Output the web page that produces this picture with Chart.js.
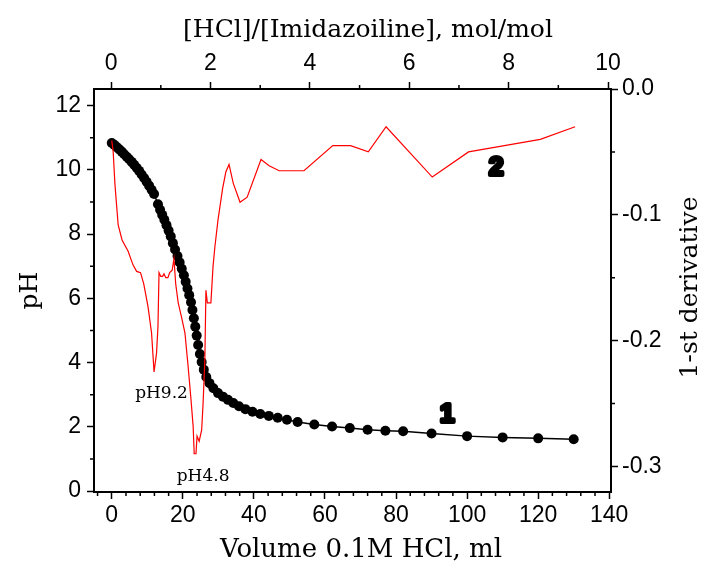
<!DOCTYPE html>
<html>
<head>
<meta charset="utf-8">
<script src="https://cdn.jsdelivr.net/npm/chart.js@4.4.0/dist/chart.umd.min.js"></script>
<style>
  html, body { margin: 0; padding: 0; background: #fff; }
</style>
</head>
<body>
<canvas id="chart" width="705" height="567"></canvas>
<script>
// titration curve: volume of 0.1M HCl (ml) vs pH
const volume = [0, 0.7, 1.4, 2.1, 2.8, 3.5, 4.2, 4.9, 5.6, 6.3,
    7.0, 7.7, 8.4, 9.1, 9.8, 10.5, 11.2, 11.9, 13.0, 13.6,
    14.2, 14.8, 15.4, 16.0, 16.6, 17.2, 17.8, 18.5, 19.1, 19.7,
    20.3, 20.8, 21.3, 21.8, 22.3, 22.7, 23.1, 23.5, 23.9, 24.3,
    24.8, 25.3, 25.9, 26.6, 27.5, 28.6, 29.9, 31.3, 32.7, 34.2,
    35.8, 37.6, 39.6, 41.8, 44.2, 46.7, 49.3, 52.3, 57.0, 62.0,
    67.0, 72.0, 77.0, 82.0, 90.0, 100.0, 110.0, 120.0, 130.0];
const pH = [10.84, 10.78, 10.71, 10.64, 10.57, 10.49, 10.41, 10.33, 10.25, 10.16,
    10.07, 9.97, 9.86, 9.75, 9.63, 9.51, 9.38, 9.25, 8.93, 8.76,
    8.60, 8.45, 8.28, 8.11, 7.93, 7.72, 7.52, 7.32, 7.12, 6.92,
    6.72, 6.52, 6.31, 6.10, 5.88, 5.64, 5.38, 5.12, 4.84, 4.55,
    4.27, 4.02, 3.78, 3.55, 3.36, 3.20, 3.05, 2.94, 2.84, 2.74,
    2.64, 2.55, 2.47, 2.40, 2.34, 2.28, 2.22, 2.15, 2.07, 2.01,
    1.96, 1.91, 1.88, 1.86, 1.79, 1.71, 1.67, 1.64, 1.61];

// first derivative (right axis)
const derivVolume = [0, 0.4, 0.9, 1.8, 2.9, 4.6, 6.0, 7.0, 8.1, 9.0,
    10.2, 11.2, 11.9, 12.6, 13.0, 13.3, 13.8, 14.3, 14.7, 15.2,
    15.8, 16.3, 17.0, 17.5, 18.0, 18.7, 19.6, 20.6, 21.5, 22.3,
    22.9, 23.2, 23.7, 24.0, 24.6, 25.3, 25.7, 26.2, 26.5, 26.9,
    27.9, 28.5, 29.0, 29.9, 31.2, 32.1, 33.0, 34.2, 36.1, 38.1,
    42.0, 44.3, 47.1, 54.1, 62.2, 67.2, 72.2, 77.2, 90.2, 100.4,
    120.6, 130.4];
const derivValue = [-0.041, -0.050, -0.076, -0.108, -0.120, -0.129, -0.140, -0.145, -0.146, -0.155,
    -0.173, -0.194, -0.225, -0.210, -0.189, -0.146, -0.149, -0.149, -0.147, -0.150,
    -0.150, -0.146, -0.144, -0.135, -0.155, -0.170, -0.181, -0.194, -0.221, -0.247,
    -0.268, -0.290, -0.290, -0.276, -0.280, -0.271, -0.250, -0.215, -0.160, -0.170,
    -0.170, -0.141, -0.126, -0.104, -0.079, -0.066, -0.060, -0.075, -0.090, -0.086,
    -0.056, -0.061, -0.065, -0.065, -0.045, -0.045, -0.050, -0.030, -0.070, -0.050,
    -0.040, -0.030];

// tick labels
const volumeTicks = [0, 20, 40, 60, 80, 100, 120, 140];
const ratioTicks = [0, 2, 4, 6, 8, 10];
const pHTicks = [0, 2, 4, 6, 8, 10, 12];
const derivTicks = [0, -0.1, -0.2, -0.3];

const tickFont = { family: '"Liberation Sans Narrow", "Liberation Sans", sans-serif', size: 23 };
const titleFont = { family: '"DejaVu Serif", serif', size: 25 };

function fixedTicks(values) {
    return scale => { scale.ticks = values.map(v => ({ value: v })); };
}

function axis(extra) {
    return Object.assign({
        type: 'linear',
        border: { color: '#000', width: 2 },
        grid: { drawOnChartArea: false, tickLength: 7, tickWidth: 1.5, tickColor: '#000' },
    }, extra);
}

// minor ticks, axis titles and the text notes on the plot
const extras = {
    id: 'extras',
    afterDraw(chart) {
        const { ctx, chartArea: a } = chart;
        const { x, x2, y, y2 } = chart.scales;
        ctx.save();
        ctx.strokeStyle = '#000';
        ctx.lineWidth = 1.5;
        ctx.beginPath();
        for (let v = -4; v <= 140; v += 4) {
            if (v % 20 === 0) continue;
            const p = x.getPixelForValue(v);
            if (p < a.left || p > a.right) continue;
            ctx.moveTo(p, a.bottom); ctx.lineTo(p, a.bottom + 4);
        }
        for (let v = 1; v <= 9; v += 2) {
            const p = x2.getPixelForValue(v);
            ctx.moveTo(p, a.top); ctx.lineTo(p, a.top - 4);
        }
        for (let v = 1; v <= 11; v += 2) {
            const p = y.getPixelForValue(v);
            ctx.moveTo(a.left, p); ctx.lineTo(a.left - 4, p);
        }
        for (const v of [-0.05, -0.15, -0.25]) {
            const p = y2.getPixelForValue(v);
            ctx.moveTo(a.right, p); ctx.lineTo(a.right + 4, p);
        }
        ctx.stroke();

        ctx.fillStyle = '#000';
        ctx.textAlign = 'center';
        ctx.textBaseline = 'middle';

        ctx.font = `${titleFont.size}px ${titleFont.family}`;
        ctx.fillText('[HCl]/[Imidazoiline], mol/mol', 368, 30);
        ctx.font = `26px ${titleFont.family}`;
        ctx.fillText('Volume 0.1M HCl, ml', 361, 550);

        // right axis title reads bottom to top like the left one
        ctx.save();
        ctx.font = `${titleFont.size}px ${titleFont.family}`;
        ctx.translate(690, (a.top + a.bottom) / 2 - 3);
        ctx.rotate(-Math.PI / 2);
        ctx.fillText('1-st derivative', 0, 0);
        ctx.restore();

        ctx.font = '17px "DejaVu Serif", serif';
        ctx.fillText('pH9.2', x.getPixelForValue(14.0), y.getPixelForValue(3.04));
        ctx.fillText('pH4.8', x.getPixelForValue(25.7), y.getPixelForValue(0.45));

        ctx.font = 'bold 26px "Liberation Sans", sans-serif';
        ctx.lineWidth = 4;
        ctx.lineJoin = 'round';
        const blob = (t, vx, vy) => {
            const px = x.getPixelForValue(vx), py = y.getPixelForValue(vy);
            ctx.strokeText(t, px, py);
            ctx.fillText(t, px, py);
        };
        blob('1', 94.4, 2.37);
        blob('2', 108.2, 10.06);
        ctx.restore();
    }
};

new Chart(document.getElementById('chart'), {
    type: 'scatter',
    data: {
        datasets: [{
            label: '1-st derivative',
            data: derivVolume.map((v, i) => ({ x: v, y: derivValue[i] })),
            xAxisID: 'x',
            yAxisID: 'y2',
            showLine: true,
            borderColor: '#ff0000',
            borderWidth: 1.2,
            pointRadius: 0,
            tension: 0
        }, {
            label: 'pH',
            data: volume.map((v, i) => ({ x: v, y: pH[i] })),
            xAxisID: 'x',
            yAxisID: 'y',
            showLine: true,
            borderColor: '#000',
            borderWidth: 1.5,
            pointRadius: 5,
            pointBackgroundColor: '#000',
            pointBorderWidth: 0,
            tension: 0
        }]
    },
    options: {
        responsive: false,
        animation: false,
        layout: { padding: 0 },
        plugins: { legend: { display: false }, tooltip: { enabled: false } },
        scales: {
            x: axis({
                position: 'bottom', min: -5, max: 140.5,
                afterBuildTicks: fixedTicks(volumeTicks),
                afterFit: s => { s.height = 75; },
                ticks: { font: tickFont, color: '#000', padding: 3, maxRotation: 0 },
                title: { display: false }
            }),
            x2: axis({
                position: 'top', min: -0.345, max: 10.06,
                afterBuildTicks: fixedTicks(ratioTicks),
                afterFit: s => { s.height = 89; },
                ticks: { font: tickFont, color: '#000', padding: 5, maxRotation: 0 },
                title: { display: false }
            }),
            y: axis({
                position: 'left', min: -0.03, max: 12.52,
                afterBuildTicks: fixedTicks(pHTicks),
                afterFit: s => { s.width = 94; },
                ticks: { font: tickFont, color: '#000', padding: 6 },
                title: { display: true, text: 'pH', font: titleFont, color: '#000', padding: { top: 15 } }
            }),
            y2: axis({
                position: 'right', min: -0.3204, max: 0,
                afterBuildTicks: fixedTicks(derivTicks),
                afterFit: s => { s.width = 94; },
                ticks: { font: tickFont, color: '#000', padding: 4, callback: v => v.toFixed(1) },
                title: { display: false }
            })
        }
    },
    plugins: [extras]
});
</script>
</body>
</html>
